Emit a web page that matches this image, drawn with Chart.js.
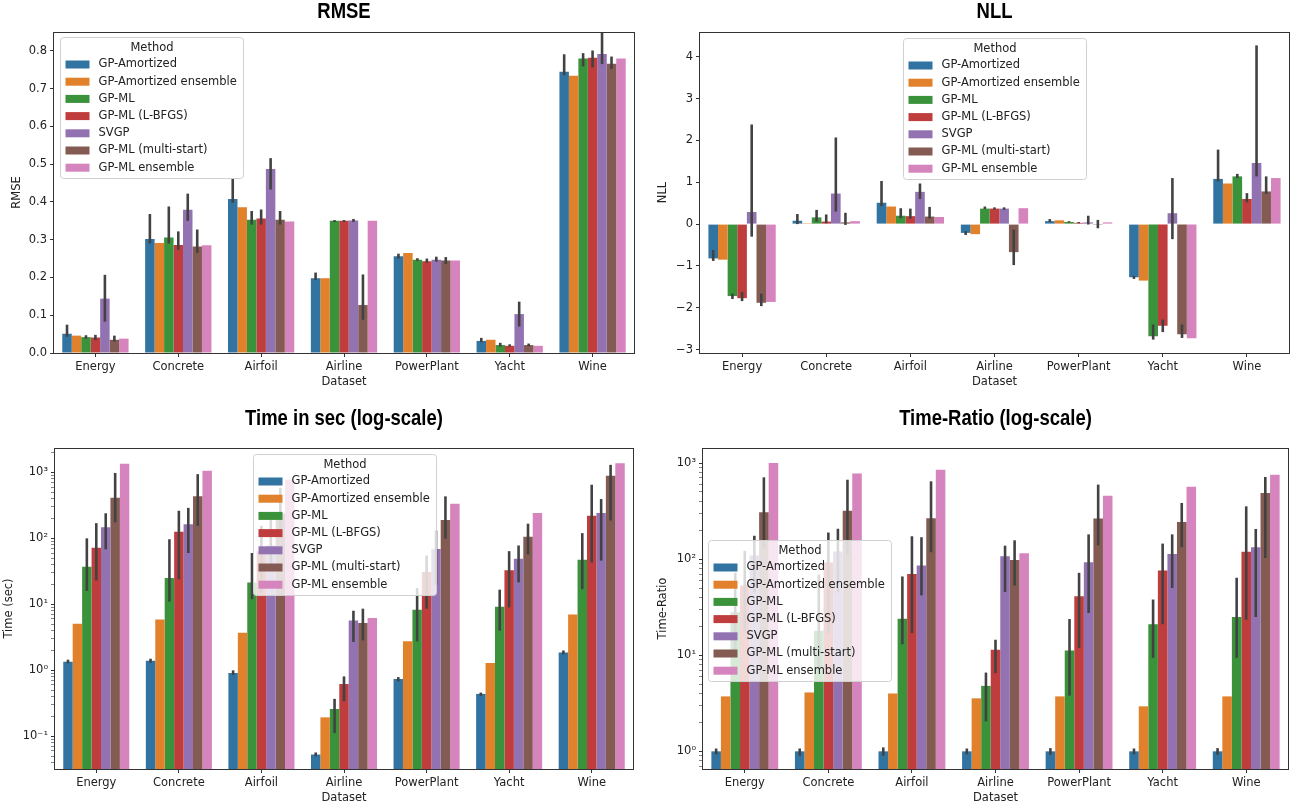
<!DOCTYPE html>
<html>
<head>
<meta charset="utf-8">
<script src="https://cdn.jsdelivr.net/npm/chart.js@4.4.1/dist/chart.umd.min.js"></script>
<style>
  html, body { margin: 0; padding: 0; background: #fff; }
  body { width: 1298px; height: 809px; position: relative; overflow: hidden; }
  canvas { position: absolute; }
  #c1 { left: 0; top: 0; }
  #c2 { left: 650px; top: 0; }
  #c3 { left: 0; top: 400px; }
  #c4 { left: 650px; top: 400px; }
</style>
</head>
<body>
<canvas id="c1" width="650" height="400"></canvas>
<canvas id="c2" width="648" height="400"></canvas>
<canvas id="c3" width="650" height="409"></canvas>
<canvas id="c4" width="648" height="409"></canvas>
<script>
// categories and series
const datasetNames = ['Energy', 'Concrete', 'Airfoil', 'Airline', 'PowerPlant', 'Yacht', 'Wine'];
const methods = ['GP-Amortized', 'GP-Amortized ensemble', 'GP-ML', 'GP-ML (L-BFGS)', 'SVGP', 'GP-ML (multi-start)', 'GP-ML ensemble'];
const methodColors = ['#3274a1', '#e1812c', '#3a923a', '#c03d3e', '#9372b2', '#845b53', '#d684bd'];

// RMSE  (rows = methods, cols = datasets)
const rmseMean = [
  [0.051, 0.302, 0.408, 0.198, 0.256, 0.032, 0.745],
  [0.046, 0.291, 0.386, 0.198, 0.265, 0.035, 0.734],
  [0.042, 0.306, 0.353, 0.350, 0.247, 0.021, 0.780],
  [0.041, 0.286, 0.356, 0.350, 0.243, 0.019, 0.782],
  [0.144, 0.379, 0.487, 0.351, 0.247, 0.103, 0.792],
  [0.035, 0.282, 0.353, 0.127, 0.245, 0.021, 0.766],
  [0.038, 0.285, 0.348, 0.350, 0.245, 0.019, 0.780]
];
const rmseLo = [
  [0.043, 0.290, 0.398, 0.193, 0.250, 0.028, 0.736],
  null,
  [0.038, 0.290, 0.340, 0.347, 0.244, 0.017, 0.759],
  [0.034, 0.273, 0.340, 0.347, 0.239, 0.017, 0.756],
  [0.083, 0.350, 0.433, 0.347, 0.242, 0.070, 0.765],
  [0.030, 0.265, 0.340, 0.088, 0.236, 0.018, 0.752],
  null
];
const rmseHi = [
  [0.075, 0.368, 0.461, 0.213, 0.263, 0.040, 0.791],
  null,
  [0.047, 0.388, 0.376, 0.352, 0.251, 0.027, 0.794],
  [0.048, 0.322, 0.380, 0.352, 0.250, 0.023, 0.801],
  [0.207, 0.422, 0.516, 0.355, 0.255, 0.136, 0.880],
  [0.046, 0.327, 0.376, 0.208, 0.254, 0.025, 0.785],
  null
];

// NLL
const nllMean = [
  [-0.82, 0.08, 0.51, -0.21, 0.07, -1.27, 1.08],
  [-0.85, 0.02, 0.42, -0.24, 0.09, -1.35, 0.97],
  [-1.72, 0.16, 0.20, 0.37, 0.05, -2.68, 1.14],
  [-1.77, 0.06, 0.19, 0.37, 0.03, -2.43, 0.60],
  [0.29, 0.73, 0.77, 0.37, 0.04, 0.26, 1.46],
  [-1.88, 0.04, 0.18, -0.67, -0.02, -2.63, 0.78],
  [-1.86, 0.07, 0.17, 0.38, 0.04, -2.73, 1.10]
];
const nllLo = [
  [-0.88, 0.00, 0.43, -0.26, 0.05, -1.31, 1.02],
  null,
  [-1.79, 0.06, 0.14, 0.36, 0.04, -2.76, 1.10],
  [-1.84, 0.02, 0.13, 0.35, 0.02, -2.58, 0.52],
  [-0.30, 0.30, 0.60, 0.34, -0.01, -0.36, 1.14],
  [-1.96, -0.02, 0.13, -0.98, -0.10, -2.72, 0.72],
  null
];
const nllHi = [
  [-0.62, 0.24, 1.03, -0.17, 0.12, -1.24, 1.78],
  null,
  [-1.66, 0.34, 0.38, 0.42, 0.07, -2.40, 1.20],
  [-1.62, 0.23, 0.37, 0.40, 0.05, -2.28, 0.74],
  [2.38, 2.07, 0.97, 0.40, 0.20, 1.10, 4.27],
  [-1.66, 0.27, 0.41, -0.13, 0.10, -2.40, 1.14],
  null
];

// Time in sec
const timeMean = [
  [1.35, 1.40, 0.91, 0.053, 0.74, 0.44, 1.87],
  [5.1, 5.9, 3.7, 0.194, 2.75, 1.29, 7.0],
  [37, 25, 21.5, 0.26, 8.3, 9.2, 47.5],
  [72, 126, 64, 0.62, 31, 33, 220],
  [147, 163, 78, 5.7, 69, 49, 242],
  [413, 433, 240, 5.2, 190, 106, 890],
  [1350, 1060, 770, 6.2, 335, 242, 1380]
];
const timeLo = [
  [1.28, 1.30, 0.85, 0.050, 0.68, 0.41, 1.75],
  null,
  [16, 11, 12, 0.112, 2.75, 4.0, 17],
  [23, 24, 15, 0.34, 8.6, 9, 43],
  [68, 60, 38, 2.7, 19.9, 21.5, 46],
  [175, 155, 110, 2.85, 99, 57, 186],
  null
];
const timeHi = [
  [1.45, 1.50, 1.00, 0.057, 0.79, 0.46, 2.0],
  null,
  [100, 97, 60, 0.37, 17.7, 16.7, 120],
  [170, 262, 155, 0.81, 55, 64, 650],
  [240, 290, 235, 8.0, 132, 78, 394],
  [980, 940, 585, 8.6, 433, 167, 1300],
  null
];

// Time-Ratio
const ratioMean = [
  [1, 1, 1, 1, 1, 1, 1],
  [3.73, 4.1, 4.0, 3.56, 3.73, 2.94, 3.73],
  [28, 18, 24, 4.8, 11.2, 21, 25],
  [53, 92, 70, 11.4, 41, 76, 119],
  [109, 120, 86, 107, 93, 113, 133],
  [307, 319, 266, 98, 264, 243, 488],
  [1000, 780, 850, 115, 457, 568, 757]
];
const ratioLo = [
  [0.93, 0.90, 0.90, 0.93, 0.92, 0.93, 0.92],
  null,
  [10, 7, 13, 2.05, 3.8, 9.4, 9.4],
  [18, 17, 17, 6.5, 11.9, 21, 23.4],
  [45, 45, 42, 45.5, 27.5, 50, 25],
  [130, 111, 118, 53, 139, 133, 103],
  null
];
const ratioHi = [
  [1.07, 1.07, 1.10, 1.07, 1.08, 1.07, 1.08],
  null,
  [72, 69, 66, 6.6, 23.8, 38, 64],
  [122, 189, 173, 14.5, 72, 145, 354],
  [175, 207, 169, 138, 181, 181, 206],
  [710, 670, 645, 157, 596, 384, 716],
  null
];

// tick labels
const rmseTicks = [0, 0.1, 0.2, 0.3, 0.4, 0.5, 0.6, 0.7, 0.8];
const nllTicks = [-3, -2, -1, 0, 1, 2, 3, 4];
const timeTicks = [0.1, 1, 10, 100, 1000];
const ratioTicks = [1, 10, 100, 1000];

const tickFont = { family: '"DejaVu Sans", sans-serif', size: 11.5 };
const textColor = '#222';
const supMap = { '-': '\u207b', '0': '\u2070', '1': '\u00b9', '2': '\u00b2', '3': '\u00b3', '4': '\u2074', '5': '\u2075', '6': '\u2076', '7': '\u2077', '8': '\u2078', '9': '\u2079' };
function powLabel(v) {
  const e = Math.round(Math.log10(v));
  return '10' + String(e).split('').map(c => supMap[c]).join('');
}
function logTicks(majors, min, max) {
  const t = [];
  const lo = Math.floor(Math.log10(min)), hi = Math.ceil(Math.log10(max));
  for (let e = lo; e <= hi; e++) {
    for (let k = 1; k < 10; k++) {
      const v = k * Math.pow(10, e);
      if (v >= min && v <= max) t.push({ value: v, major: majors.some(m => Math.abs(m - v) < 1e-9 * v) });
    }
  }
  return t;
}

const errorBars = {
  id: 'errorBars',
  afterDatasetsDraw(chart) {
    const { ctx, chartArea: a, scales: { y } } = chart;
    ctx.save();
    ctx.beginPath();
    ctx.rect(a.left, a.top, a.right - a.left, a.bottom - a.top);
    ctx.clip();
    ctx.strokeStyle = '#424242';
    ctx.lineWidth = 2.6;
    chart.data.datasets.forEach((ds, i) => {
      if (!ds.errLo) return;
      const meta = chart.getDatasetMeta(i);
      ds.errLo.forEach((lo, j) => {
        const x = meta.data[j].x;
        ctx.beginPath();
        ctx.moveTo(x, y.getPixelForValue(lo));
        ctx.lineTo(x, y.getPixelForValue(ds.errHi[j]));
        ctx.stroke();
      });
    });
    ctx.restore();
    // axes frame
    ctx.save();
    ctx.strokeStyle = '#333';
    ctx.lineWidth = 1;
    ctx.strokeRect(Math.round(a.left) - 0.5, Math.round(a.top) + 0.5, Math.round(a.right - a.left) + 1, Math.round(a.bottom - a.top));
    ctx.restore();
  }
};

const methodLegend = {
  id: 'methodLegend',
  afterDraw(chart, args, opts) {
    const { ctx, chartArea: a } = chart;
    const x = Math.round(a.left + opts.dx) + 0.5, y = Math.round(a.top + opts.dy) + 0.5;
    const w = 183, h = 141;
    ctx.save();
    ctx.fillStyle = 'rgba(255,255,255,0.8)';
    ctx.strokeStyle = '#d0d0d0';
    ctx.lineWidth = 1;
    ctx.beginPath();
    ctx.roundRect(x, y, w, h, 3);
    ctx.fill();
    ctx.stroke();
    ctx.font = '11.5px "DejaVu Sans", sans-serif';
    ctx.textBaseline = 'middle';
    ctx.fillStyle = textColor;
    ctx.textAlign = 'center';
    ctx.fillText('Method', x + w / 2, y + 11);
    ctx.textAlign = 'left';
    chart.data.datasets.forEach((ds, i) => {
      const ry = y + 27 + i * 17.2;
      ctx.fillStyle = ds.backgroundColor;
      ctx.fillRect(x + 5, ry - 4, 24, 8);
      ctx.fillStyle = textColor;
      ctx.fillText(ds.label, x + 38, ry);
    });
    ctx.restore();
  }
};

const panelTitle = {
  id: 'panelTitle',
  afterDraw(chart, args, opts) {
    const { ctx, chartArea: a } = chart;
    ctx.save();
    ctx.font = 'bold 22px "Liberation Sans", Arial, sans-serif';
    ctx.textAlign = 'center';
    ctx.textBaseline = 'middle';
    ctx.fillStyle = '#000';
    // narrow the face a little to get closer to the original title font
    ctx.translate((a.left + a.right) / 2, opts.y);
    ctx.scale(0.84, 1);
    ctx.fillText(opts.text, 0, 0);
    ctx.restore();
  }
};

function makeChart(id, cfg) {
  return new Chart(document.getElementById(id), {
    type: 'bar',
    data: {
      labels: datasetNames,
      datasets: methods.map((m, i) => ({
        label: m,
        data: cfg.mean[i],
        errLo: cfg.lo[i],
        errHi: cfg.hi[i],
        backgroundColor: methodColors[i],
        borderWidth: 0,
        categoryPercentage: 0.8,
        barPercentage: 1
      }))
    },
    options: {
      responsive: false,
      animation: false,
      devicePixelRatio: 1,
      layout: { padding: { top: cfg.padTop, right: cfg.padRight, left: 0, bottom: 0 } },
      plugins: {
        legend: { display: false },
        tooltip: { enabled: false },
        methodLegend: cfg.legend,
        panelTitle: { text: cfg.title, y: cfg.titleY }
      },
      scales: {
        x: {
          afterFit: s => { s.height = cfg.xHeight; },
          ticks: { font: tickFont, color: textColor, padding: 3, maxRotation: 0, autoSkip: false },
          grid: { drawOnChartArea: false, offset: false, tickLength: 4, tickColor: '#333' },
          border: { display: false },
          title: { display: true, text: 'Dataset', font: tickFont, color: textColor, padding: { top: 0, bottom: cfg.xTitlePad } }
        },
        y: {
          type: cfg.log ? 'logarithmic' : 'linear',
          min: cfg.min,
          max: cfg.max,
          afterBuildTicks: s => {
            s.ticks = cfg.log ? logTicks(cfg.ticks, cfg.min, cfg.max) : cfg.ticks.map(v => ({ value: v }));
          },
          afterFit: s => { s.width = cfg.yWidth; },
          ticks: { font: tickFont, color: textColor, padding: 3, autoSkip: false, callback: cfg.fmt },
          grid: {
            drawOnChartArea: false, tickLength: 4, tickColor: '#333',
            tickWidth: c => (c.tick && c.tick.major === false) ? 0.6 : 1
          },
          border: { display: false },
          title: { display: true, text: cfg.yTitle, font: tickFont, color: textColor, padding: { top: cfg.yTitlePad, bottom: 0 } }
        }
      }
    },
    plugins: [errorBars, methodLegend, panelTitle]
  });
}

const logFmt = v => {
  const e = Math.round(Math.log10(v));
  return Math.abs(v - Math.pow(10, e)) < 1e-9 * v ? powLabel(v) : '';
};

makeChart('c1', {
  title: 'RMSE', titleY: 12, padTop: 32, padRight: 16,
  mean: rmseMean, lo: rmseLo, hi: rmseHi,
  min: 0, max: 0.85, ticks: rmseTicks, log: false,
  fmt: v => v.toFixed(1),
  yTitle: 'RMSE', yWidth: 54, yTitlePad: 10, xHeight: 47, xTitlePad: 11,
  legend: { dx: 6, dy: 5 }
});
makeChart('c2', {
  title: 'NLL', titleY: 12, padTop: 32, padRight: 9,
  mean: nllMean, lo: nllLo, hi: nllHi,
  min: -3.08, max: 4.59, ticks: nllTicks, log: false,
  fmt: v => (v < 0 ? '\u2212' + Math.abs(v) : String(v)),
  yTitle: 'NLL', yWidth: 50, yTitlePad: 6, xHeight: 47, xTitlePad: 11,
  legend: { dx: 203, dy: 6 }
});
makeChart('c3', {
  title: 'Time in sec (log-scale)', titleY: 19, padTop: 48, padRight: 17,
  mean: timeMean, lo: timeLo, hi: timeHi,
  min: 0.032, max: 2340, ticks: timeTicks, log: true,
  fmt: logFmt,
  yTitle: 'Time (sec)', yWidth: 55, yTitlePad: 2, xHeight: 40, xTitlePad: 4,
  legend: { dx: 198, dy: 6 }
});
makeChart('c4', {
  title: 'Time-Ratio (log-scale)', titleY: 19, padTop: 48, padRight: 10,
  mean: ratioMean, lo: ratioLo, hi: ratioHi,
  min: 0.655, max: 1433, ticks: ratioTicks, log: true,
  fmt: logFmt,
  yTitle: 'Time-Ratio', yWidth: 53, yTitlePad: 6, xHeight: 40, xTitlePad: 4,
  legend: { dx: 5, dy: 92 }
});
</script>
</body>
</html>
